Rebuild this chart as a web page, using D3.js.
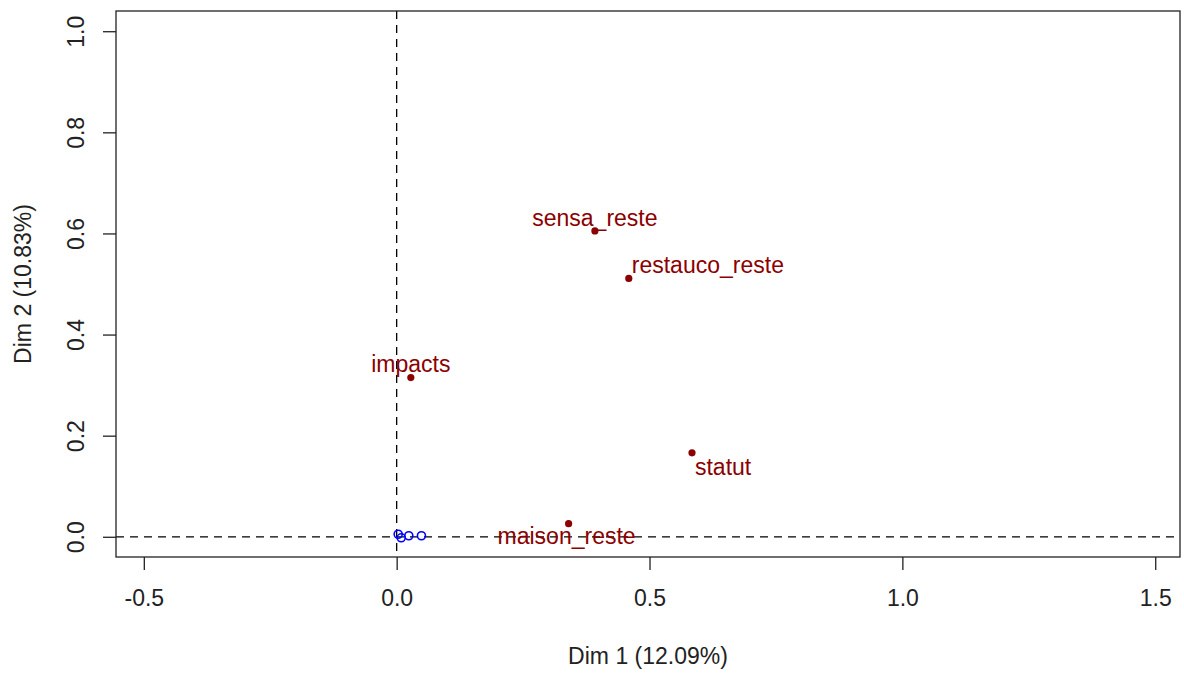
<!DOCTYPE html>
<html>
<head>
<meta charset="utf-8">
<script src="https://cdn.jsdelivr.net/npm/d3@7"></script>
<style>
  body { margin: 0; background: #fff; }
  text { font-family: "Liberation Sans", Arial, sans-serif; }
</style>
</head>
<body>
<div id="chart"></div>
<script>
// Variables (active), red points
var varNames = ["sensa_reste", "restauco_reste", "impacts", "statut", "maison_reste"];
var varDim1 = [0.392, 0.459, 0.028, 0.584, 0.340];
var varDim2 = [0.605, 0.511, 0.315, 0.166, 0.026];

// Supplementary variables, blue open circles
var supDim1 = [0.003, 0.009, 0.024, 0.049];
var supDim2 = [0.005, -0.002, 0.002, 0.002];

// Axis ticks
var xTicks = [-0.5, 0.0, 0.5, 1.0, 1.5];
var yTicks = [0.0, 0.2, 0.4, 0.6, 0.8, 1.0];
var xTitle = "Dim 1 (12.09%)";
var yTitle = "Dim 2 (10.83%)";

// label placement relative to each point (anchor, dx, dy)
var labelPos = [
  ["middle", 0, -5],
  ["start", 3, -5],
  ["middle", 0, -6],
  ["start", 3, 22],
  ["middle", -2, 20]
];

var svgWidth = 1184;
var svgHeight = 675;

// plot box
var margin = { top: 11, right: 4, bottom: 118, left: 116 };
var chartWidth = svgWidth - margin.left - margin.right;
var chartHeight = svgHeight - margin.top - margin.bottom;

var svg = d3.select("#chart")
    .append("svg")
    .attr("width", svgWidth)
    .attr("height", svgHeight);

var chartGroup = svg.append("g")
    .attr("transform", `translate(${margin.left}, ${margin.top})`);

var xScale = d3.scaleLinear()
    .domain([-0.555, 1.549])
    .range([0, chartWidth]);

var yScale = d3.scaleLinear()
    .domain([-0.04, 1.04])
    .range([chartHeight, 0]);

// R style labels: plain hyphen for the minus sign
var fmt = d => d3.format(".1f")(d).replace("\u2212", "-");

// dashed reference lines through the origin
chartGroup.append("line")
    .attr("x1", 0).attr("x2", chartWidth)
    .attr("y1", yScale(0)).attr("y2", yScale(0))
    .attr("stroke", "black")
    .attr("stroke-width", 1.3)
    .attr("stroke-dasharray", "8,6");

chartGroup.append("line")
    .attr("x1", xScale(0)).attr("x2", xScale(0))
    .attr("y1", 0).attr("y2", chartHeight)
    .attr("stroke", "black")
    .attr("stroke-width", 1.3)
    .attr("stroke-dasharray", "8,6");

// axes
var bottomAxis = d3.axisBottom(xScale)
    .tickValues(xTicks)
    .tickFormat(fmt)
    .tickSize(13)
    .tickSizeOuter(0);

var leftAxis = d3.axisLeft(yScale)
    .tickValues(yTicks)
    .tickFormat(fmt)
    .tickSize(13)
    .tickSizeOuter(0);

var xAxisG = chartGroup.append("g")
    .attr("transform", "translate(0, " + chartHeight + ")")
    .call(bottomAxis);

var yAxisG = chartGroup.append("g")
    .call(leftAxis);

[xAxisG, yAxisG].forEach(function(g) {
    g.select(".domain").remove();
    g.selectAll(".tick line").attr("stroke", "#222").attr("stroke-width", 1.3);
    g.selectAll(".tick text")
        .attr("font-size", "23px")
        .attr("fill", "#222")
        .style("font-family", "Liberation Sans, Arial, sans-serif");
});

xAxisG.selectAll(".tick text")
    .attr("y", 49)
    .attr("dy", 0);

yAxisG.selectAll(".tick text")
    .attr("transform", "rotate(-90)")
    .attr("x", 0)
    .attr("y", -32)
    .attr("dy", 0)
    .attr("text-anchor", "middle");

// box
chartGroup.append("rect")
    .attr("x", 0).attr("y", 0)
    .attr("width", chartWidth)
    .attr("height", chartHeight)
    .attr("fill", "none")
    .attr("stroke", "#222")
    .attr("stroke-width", 1.3);

// supplementary points
var supData = supDim1.map(function(d, i) { return { x: d, y: supDim2[i] }; });
chartGroup.selectAll("circle.sup")
    .data(supData)
    .enter()
    .append("circle")
    .attr("class", "sup")
    .attr("cx", d => xScale(d.x))
    .attr("cy", d => yScale(d.y))
    .attr("r", 4)
    .attr("fill", "none")
    .attr("stroke", "blue")
    .attr("stroke-width", 1.6);

// active variables
var varData = varNames.map(function(n, i) {
    return { name: n, x: varDim1[i], y: varDim2[i], pos: labelPos[i] };
});

chartGroup.selectAll("circle.var")
    .data(varData)
    .enter()
    .append("circle")
    .attr("class", "var")
    .attr("cx", d => xScale(d.x))
    .attr("cy", d => yScale(d.y))
    .attr("r", 3.6)
    .attr("fill", "darkred");

chartGroup.selectAll("text.lab")
    .data(varData)
    .enter()
    .append("text")
    .attr("class", "lab")
    .attr("x", d => xScale(d.x) + d.pos[1])
    .attr("y", d => yScale(d.y) + d.pos[2])
    .attr("text-anchor", d => d.pos[0])
    .attr("font-size", "23px")
    .attr("fill", "darkred")
    .text(d => d.name);

// axis titles
svg.append("text")
    .attr("x", margin.left + chartWidth / 2)
    .attr("y", 664)
    .attr("text-anchor", "middle")
    .attr("font-size", "23px")
    .attr("fill", "#222")
    .text(xTitle);

svg.append("text")
    .attr("transform", `translate(31, ${margin.top + chartHeight / 2}) rotate(-90)`)
    .attr("text-anchor", "middle")
    .attr("font-size", "23px")
    .attr("fill", "#222")
    .text(yTitle);
</script>
</body>
</html>
